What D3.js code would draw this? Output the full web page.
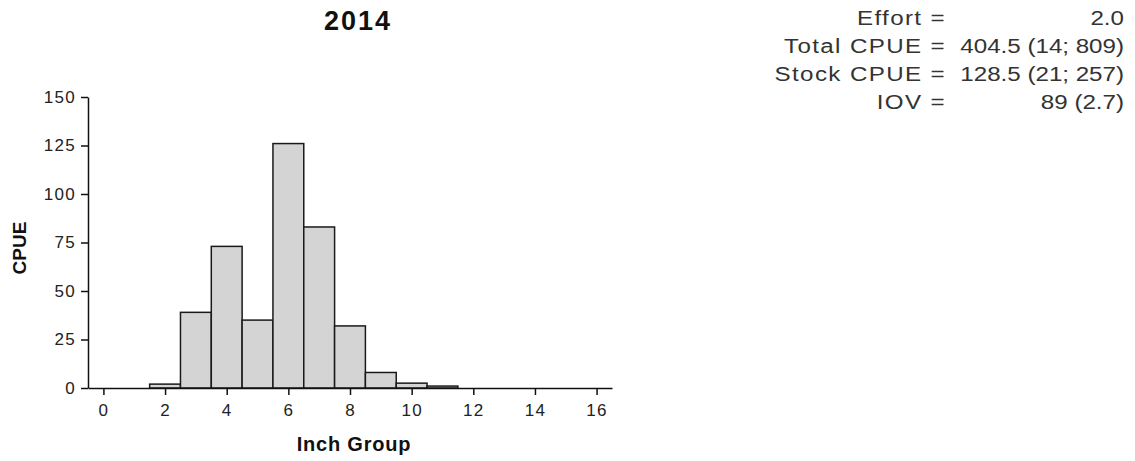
<!DOCTYPE html>
<html>
<head>
<meta charset="utf-8">
<script src="https://cdn.jsdelivr.net/npm/d3@7"></script>
<style>
  body { margin: 0; background: #fff; }
  text { font-family: "Liberation Sans", Arial, sans-serif; }
</style>
</head>
<body>
<div id="chart"></div>
<script>
const inchGroups = [0, 1, 2, 3, 4, 5, 6, 7, 8, 9, 10, 11, 12, 13, 14, 15, 16];
const cpue = [0, 0, 2, 39, 73, 35, 126, 83, 32, 8, 2.5, 1, 0, 0, 0, 0, 0];
const xTicks = [0, 2, 4, 6, 8, 10, 12, 14, 16];
const yTicks = [0, 25, 50, 75, 100, 125, 150];
const statLabels = ["Effort =", "Total CPUE =", "Stock CPUE =", "IOV ="];
const statValues = ["2.0", "404.5 (14; 809)", "128.5 (21; 257)", "89 (2.7)"];

const W = 1135, H = 461;
const margin = { top: 97, right: 523, bottom: 73, left: 88 };
const width = W - margin.left - margin.right;
const height = H - margin.top - margin.bottom;

const root = d3.select("#chart")
  .append("svg")
  .attr("width", W)
  .attr("height", H);

const svg = root.append("g")
  .attr("transform", `translate(${margin.left},${margin.top})`);

const data = inchGroups.map((g, i) => ({ group: g, value: cpue[i] }));

const xScale = d3.scaleLinear().domain([-0.5, 16.5]).range([0, width]);
const yScale = d3.scaleLinear().domain([0, 150]).range([height, 0]);

// Bars (one inch wide, centred on the group)
svg.selectAll(".bar")
  .data(data.filter(d => d.value > 0))
  .join("rect")
  .attr("class", "bar")
  .attr("x", d => xScale(d.group - 0.5))
  .attr("width", d => xScale(d.group + 0.5) - xScale(d.group - 0.5))
  .attr("y", d => yScale(d.value))
  .attr("height", d => yScale(0) - yScale(d.value))
  .attr("fill", "#d4d4d4")
  .attr("stroke", "#1a1a1a")
  .attr("stroke-width", 1.5);

// Axes
const xAxis = svg.append("g")
  .attr("transform", `translate(0,${height})`)
  .call(d3.axisBottom(xScale).tickValues(xTicks).tickSize(7).tickSizeOuter(0).tickPadding(9));

const yAxis = svg.append("g")
  .call(d3.axisLeft(yScale).tickValues(yTicks).tickSize(7).tickSizeOuter(0).tickPadding(5));

[xAxis, yAxis].forEach(ax => {
  ax.select(".domain").attr("stroke", "#111").attr("stroke-width", 1.5);
  ax.selectAll(".tick line").attr("stroke", "#111").attr("stroke-width", 1.5);
  ax.selectAll(".tick text")
    .attr("fill", "#222")
    .style("font-size", "17px")
    .style("letter-spacing", "1.3px")
    .style("font-family", "'Liberation Sans', Arial, sans-serif");
});

// Title and axis labels
root.append("text")
  .attr("x", 358)
  .attr("y", 30)
  .attr("text-anchor", "middle")
  .style("font-size", "27px")
  .style("font-weight", "bold")
  .style("letter-spacing", "2px")
  .attr("fill", "#111")
  .text("2014");

root.append("text")
  .attr("x", 354)
  .attr("y", 451)
  .attr("text-anchor", "middle")
  .style("font-size", "20px")
  .style("font-weight", "bold")
  .style("letter-spacing", "0.8px")
  .attr("fill", "#111")
  .text("Inch Group");

root.append("text")
  .attr("transform", "rotate(-90)")
  .attr("x", -248)
  .attr("y", 26)
  .attr("text-anchor", "middle")
  .style("font-size", "19px")
  .style("font-weight", "bold")
  .attr("fill", "#111")
  .text("CPUE");

// Stats block (text a bit wider than plain Arial in the original)
const stats = root.append("g");
statLabels.forEach((lab, i) => {
  const y = 25 + i * 28;
  stats.append("text")
    .attr("transform", `translate(946,${y}) scale(1.15,1)`)
    .attr("text-anchor", "end")
    .style("font-size", "21px")
    .style("letter-spacing", "1.2px")
    .attr("fill", "#333")
    .text(lab);
  stats.append("text")
    .attr("transform", `translate(1124,${y}) scale(1.15,1)`)
    .attr("text-anchor", "end")
    .style("font-size", "21px")
    .attr("fill", "#333")
    .text(statValues[i]);
});
</script>
</body>
</html>
